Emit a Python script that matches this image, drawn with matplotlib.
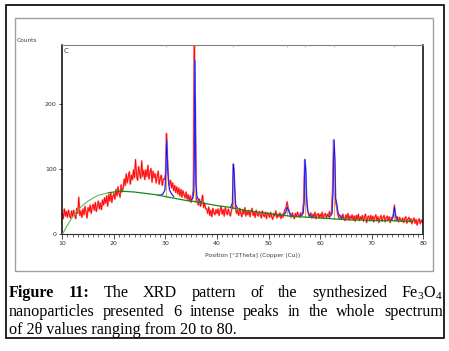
#!/usr/bin/env python3
"""XRD pattern of Fe3O4 nanoparticles, redrawn from the figure."""

import matplotlib
matplotlib.use("Agg")
import matplotlib.pyplot as plt
import numpy as np
from matplotlib.patches import Rectangle

W, H = 449, 351

# measured counts, 10 to 80 deg 2theta in 0.2 deg steps
theta_start, theta_stop = 10.0, 80.0
counts = [
    32, 24, 39, 28, 35, 26, 37, 29, 25, 36,
    27, 37, 30, 24, 40, 32, 57, 29, 36, 26,
    39, 30, 43, 34, 25, 41, 35, 45, 32, 42,
    46, 37, 49, 35, 44, 51, 39, 48, 38, 53,
    45, 56, 48, 59, 43, 61, 51, 64, 49, 58,
    63, 54, 69, 59, 73, 63, 57, 76, 65, 71,
    85, 75, 93, 79, 89, 96, 77, 91, 84, 99,
    87, 115, 91, 83, 104, 94, 86, 113, 89, 98,
    84, 99, 89, 106, 85, 95, 101, 80, 97, 87,
    93, 79, 89, 97, 77, 86, 91, 75, 85, 84,
    92, 155, 118, 85, 75, 83, 71, 79, 67, 75,
    64, 73, 62, 71, 59, 69, 57, 67, 61, 56,
    65, 54, 61, 51, 59, 49, 57, 68, 300, 190,
    56, 49, 45, 54, 43, 49, 60, 41, 48, 39,
    39, 32, 42, 29, 37, 27, 40, 33, 30, 38,
    32, 39, 29, 37, 43, 31, 38, 28, 41, 34,
    30, 39, 33, 28, 37, 41, 108, 72, 39, 32,
    37, 29, 40, 33, 27, 38, 31, 41, 28, 36,
    30, 37, 27, 35, 40, 29, 34, 26, 37, 30,
    28, 35, 30, 25, 36, 29, 27, 34, 24, 33,
    31, 26, 34, 27, 23, 32, 28, 36, 25, 31,
    27, 33, 24, 31, 26, 34, 38, 42, 50, 40,
    35, 29, 26, 33, 28, 24, 32, 27, 34, 29,
    26, 33, 28, 35, 50, 115, 100, 48, 36, 29,
    27, 33, 25, 31, 26, 34, 24, 30, 32, 25,
    31, 26, 34, 24, 30, 32, 25, 31, 27, 35,
    28, 35, 68, 145, 118, 50, 42, 31, 26, 24,
    29, 23, 31, 25, 21, 30, 24, 32, 22, 28,
    24, 30, 22, 28, 20, 29, 23, 31, 21, 27,
    23, 29, 20, 27, 31, 18, 26, 28, 21, 29,
    22, 28, 19, 26, 30, 21, 27, 18, 25, 29,
    20, 26, 29, 19, 25, 28, 21, 27, 18, 26,
    23, 32, 45, 29, 21, 27, 19, 26, 22, 20,
    25, 18, 24, 27, 17, 23, 26, 19, 24, 16,
    22, 25, 17, 23, 14, 21, 24, 16, 22, 18,
    22,
]

# fitted background (green)
bg_x = [10, 11, 12, 13, 14, 15, 16, 17, 18, 19, 20, 21, 22, 24, 26, 28, 30,
        32, 34, 36, 38, 40, 42, 44, 46, 48, 50, 52, 54, 56, 58, 60, 62, 64,
        66, 68, 70, 72, 74, 76, 78]
bg_y = [0, 14, 27, 37, 45, 51, 56, 60, 62, 64, 65, 66, 66, 65, 63, 61, 58,
        55, 52, 50, 47, 44, 42, 39, 36, 34, 32, 30, 28, 27, 26, 25, 24, 23,
        22, 22, 21, 21, 21, 20, 20]

# fitted profile (blue) around each peak
fit_x = [
    [28.5, 29.0, 29.5, 29.9, 30.1, 30.25, 30.4, 30.6, 30.8, 31.2, 31.6],
    [34.8, 35.3, 35.5, 35.6, 35.7, 35.8, 35.9, 36.1, 36.5, 37.0],
    [42.6, 43.0, 43.15, 43.3, 43.45, 43.6, 44.0],
    [52.8, 53.3, 53.6, 53.9, 54.3, 54.8],
    [56.0, 56.7, 56.9, 57.05, 57.2, 57.35, 57.6, 58.0, 58.5],
    [61.8, 62.3, 62.5, 62.7, 62.85, 63.0, 63.2, 63.5, 64.0, 64.5],
    [73.8, 74.2, 74.4, 74.6, 75.0],
]
fit_y = [
    [60, 60, 62, 68, 100, 145, 105, 80, 68, 62, 58],
    [52, 55, 65, 120, 268, 190, 80, 58, 52, 49],
    [41, 48, 108, 98, 70, 45, 40],
    [29, 33, 42, 36, 30, 28],
    [28, 32, 50, 115, 100, 60, 35, 29, 27],
    [26, 32, 65, 145, 118, 55, 48, 32, 27, 25],
    [22, 28, 42, 30, 22],
]

# peak list (orange sticks)
peak_pos = [30.2, 35.65, 43.1, 53.6, 57.0, 62.65, 74.4]
peak_base = [58, 50, 41, 29, 27, 24, 21]
peak_top = [130, 215, 108, 40, 100, 120, 38]

caption_line1 = ["The", "XRD", "pattern", "of", "the", "synthesized",
                 r"Fe$_\mathregular{3}$O$_\mathregular{4}$"]
caption_line2 = "nanoparticles presented 6 intense peaks in the whole spectrum"
caption_line3 = "of 2\u03b8 values ranging from 20 to 80."


def fx(px):
    return px / W


def fy(py):
    return 1 - py / H


def main():
    plt.rcParams["mathtext.fontset"] = "custom"
    plt.rcParams["mathtext.rm"] = "Liberation Serif"

    fig = plt.figure(figsize=(W / 100, H / 100), dpi=100)

    # frames
    fig.patches.append(Rectangle((fx(6), fy(338)), fx(444) - fx(6), fy(5) - fy(338),
                                 transform=fig.transFigure, fill=False,
                                 edgecolor="black", lw=1.2))
    fig.patches.append(Rectangle((fx(15.5), fy(271)), fx(433) - fx(15.5), fy(18) - fy(271),
                                 transform=fig.transFigure, fill=False,
                                 edgecolor="#a0a0a0", lw=1.0))

    ax = fig.add_axes([fx(62.3), fy(234.3), fx(423.3) - fx(62.3), fy(45) - fy(234.3)])

    tt = np.linspace(theta_start, theta_stop, len(counts))
    ax.plot(tt, counts, color="#ff7070", lw=1.3, alpha=0.8, zorder=1)
    ax.plot(tt, counts, color="#ff0000", lw=0.6, zorder=2)

    for p, b, t in zip(peak_pos, peak_base, peak_top):
        ax.plot([p, p], [b, t], color="#f5a54a", lw=0.8, zorder=3)

    for xs, ys in zip(fit_x, fit_y):
        ax.plot(xs, ys, color="#8080ff", lw=1.0, zorder=4)
        ax.plot(xs, ys, color="#0000ee", lw=0.5, zorder=5)

    ax.plot(bg_x[:10], bg_y[:10], color="#5cb85c", lw=0.8, zorder=6)
    ax.plot(bg_x[9:], bg_y[9:], color="#138a13", lw=0.9, zorder=6)

    ax.plot(peak_pos, [289] * len(peak_pos), "|", color="#f5a54a", ms=2, mew=0.6,
            clip_on=False, zorder=7)

    ax.set_xlim(10, 80)
    ax.set_ylim(0, 291)
    ax.set_xticks(range(10, 81, 10))
    ax.set_xticks(range(10, 81, 1), minor=True)
    ax.set_yticks([0, 100, 200])

    for side in ("left", "right"):
        ax.spines[side].set_color("black")
        ax.spines[side].set_linewidth(1.1)
    ax.spines["bottom"].set_color("#303030")
    ax.spines["bottom"].set_linewidth(0.8)
    ax.spines["top"].set_color("#808080")
    ax.spines["top"].set_linewidth(0.8)

    ax.tick_params(axis="x", which="major", length=3.5, width=0.6, labelsize=4.5,
                   pad=1.5, colors="#303030")
    ax.tick_params(axis="x", which="minor", length=2, width=0.5, colors="#303030")
    ax.tick_params(axis="y", which="major", length=2.5, width=0.6, labelsize=4.5,
                   pad=1.5, colors="#303030")

    ax.text(0.003, 0.985, "C", transform=ax.transAxes, fontsize=5, color="#404040",
            ha="left", va="top")
    fig.text(fx(17), fy(41), "Counts", fontsize=4.2, color="#404040", va="center")
    fig.text(fx(253), fy(256), "Position [\u00b02Theta] (Copper (Cu))", fontsize=4.2,
             color="#404040", ha="center", va="center")

    # caption, first two lines justified
    renderer = fig.canvas.get_renderer()
    x_left, x_right = 9, 443
    cap = dict(fontsize=11.6, family="Liberation Serif", color="black", va="baseline")

    def justify(words, weights, y_base):
        items = [fig.text(0, fy(y_base), w, fontweight=wt, **cap)
                 for w, wt in zip(words, weights)]
        widths = [t.get_window_extent(renderer).width for t in items]
        gap = (x_right - x_left - sum(widths)) / (len(items) - 1)
        x = x_left
        for t, wd in zip(items, widths):
            t.set_x(fx(x))
            x += wd + gap

    words1 = ["Figure", "11:"] + caption_line1
    justify(words1, ["bold", "bold"] + ["normal"] * len(caption_line1), 297)
    words2 = caption_line2.split()
    justify(words2, ["normal"] * len(words2), 316)
    fig.text(fx(x_left), fy(334), caption_line3, **cap)

    fig.savefig("out.png", dpi=100)


if __name__ == "__main__":
    main()
